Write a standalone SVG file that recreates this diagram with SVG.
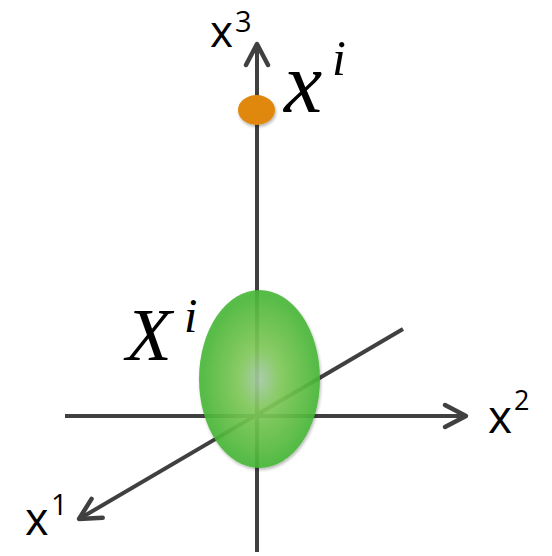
<svg xmlns="http://www.w3.org/2000/svg" width="552" height="556" viewBox="0 0 552 556">
  <style>
    .axis { stroke: #404040; stroke-width: 4; fill: none; marker-end: url(#arrow); }
    .lbl { font-family: "Open Sans", "Liberation Sans", sans-serif; fill: #000; }
    .sup { font-family: "Open Sans", "Liberation Sans", sans-serif; fill: #000; }
    .math { font-family: "Liberation Serif", "DejaVu Serif", serif; font-style: italic; fill: #000; }
  </style>
  <defs>
    <marker id="arrow" markerUnits="userSpaceOnUse" markerWidth="40" markerHeight="40" viewBox="-30 -20 40 40" refX="0" refY="0" orient="auto" overflow="visible">
      <path d="M -21 -11 L 0 0 L -21 11" fill="none" stroke="#404040" stroke-width="4.5" stroke-linecap="round" stroke-linejoin="round"/>
    </marker>
    <radialGradient id="green" cx="0.5" cy="0.5" r="0.5">
      <stop offset="0" stop-color="#a6cba6"/>
      <stop offset="0.35" stop-color="#82ca5a"/>
      <stop offset="1" stop-color="#47b737"/>
    </radialGradient>
    <filter id="shadow" x="-50%" y="-50%" width="200%" height="200%">
      <feDropShadow dx="1" dy="2" stdDeviation="1.5" flood-color="#000" flood-opacity="0.3"/>
    </filter>
  </defs>

  <g id="connectors">
    <line id="axis-x3" class="axis" x1="257" y1="552" x2="257" y2="44"/>
    <line id="axis-x2" class="axis" x1="65" y1="416" x2="466" y2="416"/>
    <line id="axis-x1" class="axis" x1="403" y1="329" x2="79" y2="519"/>
  </g>

  <g id="node-Xi">
    <ellipse cx="259.5" cy="379" rx="60.5" ry="89" fill="url(#green)" fill-opacity="0.9" filter="url(#shadow)"/>
  </g>

  <g id="node-xi">
    <ellipse cx="256.5" cy="110" rx="18.5" ry="15" fill="#e0880a" filter="url(#shadow)"/>
  </g>

  <g id="label-x3">
    <text class="lbl" x="210" y="47" font-size="44">x</text>
    <text class="sup" x="235" y="32" font-size="29">3</text>
  </g>
  <g id="label-x2">
    <text class="lbl" x="488" y="433" font-size="46">x</text>
    <text class="sup" x="514" y="410" font-size="27">2</text>
  </g>
  <g id="label-x1">
    <text class="lbl" x="25" y="535" font-size="45">x</text>
    <text class="sup" x="51" y="515" font-size="29">1</text>
  </g>
  <g id="label-xi">
    <text class="math" x="284" y="112" font-size="86">x</text>
    <text class="math" x="332" y="75" font-size="50">i</text>
  </g>
  <g id="label-Xi">
    <text class="math" x="126" y="360" font-size="75">X</text>
    <text class="math" x="184" y="332" font-size="48">i</text>
  </g>
</svg>
